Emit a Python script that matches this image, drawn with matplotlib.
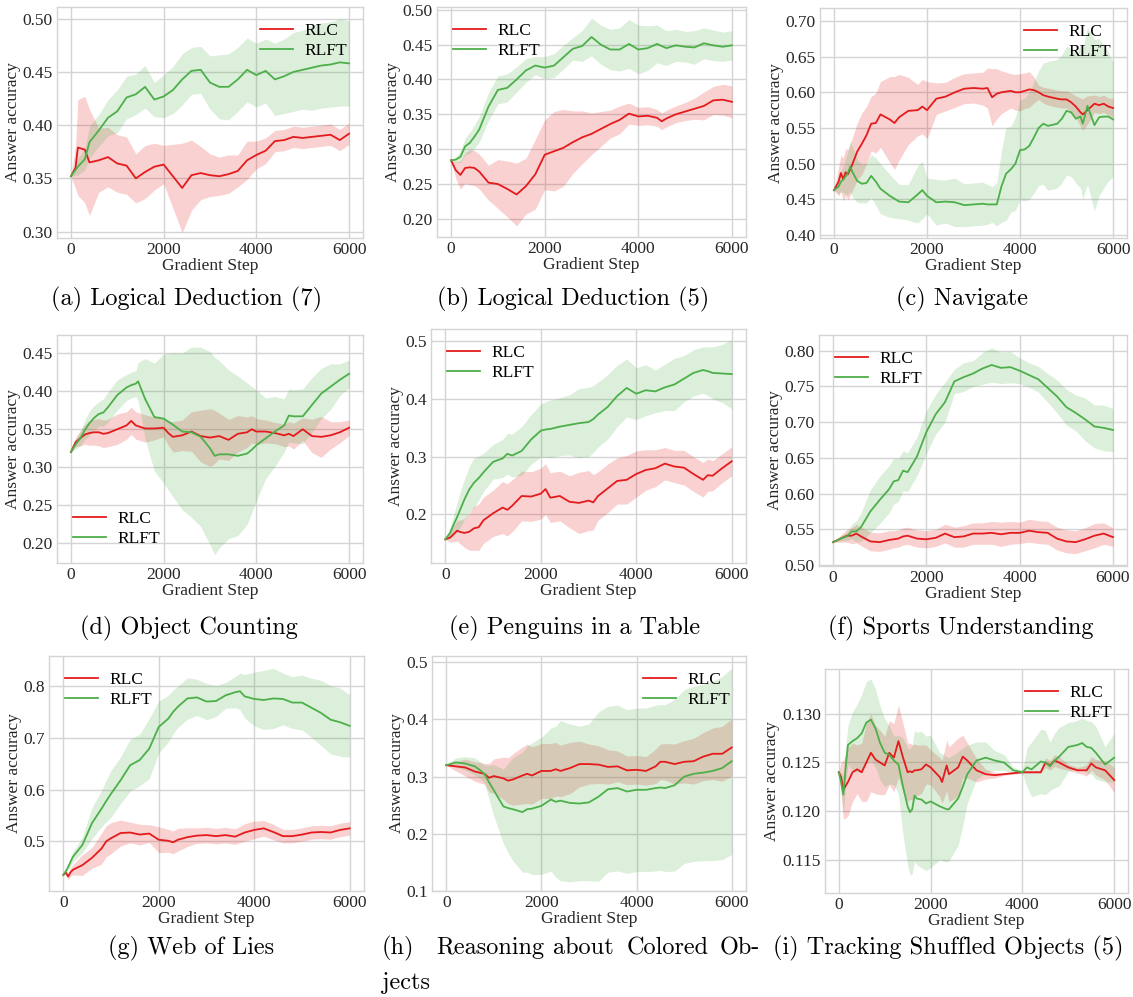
import matplotlib
matplotlib.use("Agg")
import matplotlib.pyplot as plt
import numpy as np

RED = "#e41a1c"
GREEN = "#4daf4a"

# ---- (a) Logical Deduction (7)
a_x = [0, 100, 150, 300, 400, 600, 800, 1000, 1200, 1400, 1600, 1800, 2000, 2200, 2400, 2600, 2800,
       3000, 3200, 3400, 3600, 3800, 4000, 4200, 4400, 4600, 4800, 5000, 5200, 5400, 5600, 5800, 6000]
a_rlc = [0.352, 0.360, 0.379, 0.377, 0.365, 0.367, 0.370, 0.364, 0.362, 0.350, 0.356, 0.361, 0.363, 0.352,
         0.341, 0.353, 0.355, 0.353, 0.352, 0.354, 0.357, 0.367, 0.372, 0.376, 0.385, 0.386, 0.389, 0.388,
         0.389, 0.390, 0.391, 0.386, 0.392]
a_rlc_sd = [0, 0.02, 0.045, 0.05, 0.05, 0.03, 0.028, 0.027, 0.027, 0.023, 0.025, 0.022, 0.018, 0.03, 0.042,
            0.033, 0.025, 0.02, 0.018, 0.018, 0.015, 0.018, 0.013, 0.012, 0.01, 0.01, 0.01, 0.01, 0.01, 0.01,
            0.01, 0.01, 0.01]
a_rlft = [0.352, 0.358, 0.361, 0.368, 0.384, 0.395, 0.407, 0.413, 0.426, 0.429, 0.436, 0.424, 0.427, 0.433,
          0.443, 0.451, 0.452, 0.440, 0.436, 0.436, 0.443, 0.452, 0.447, 0.451, 0.443, 0.446, 0.450, 0.452,
          0.454, 0.456, 0.457, 0.459, 0.458]
a_rlft_sd = [0, 0.005, 0.008, 0.01, 0.015, 0.015, 0.017, 0.02, 0.02, 0.019, 0.02, 0.016, 0.02, 0.022, 0.024,
             0.022, 0.022, 0.025, 0.03, 0.031, 0.03, 0.03, 0.03, 0.03, 0.034, 0.035, 0.037, 0.037, 0.04, 0.04,
             0.04, 0.041, 0.04]

# ---- (b) Logical Deduction (5)
b_x = [0, 100, 200, 300, 400, 500, 600, 800, 1000, 1200, 1400, 1600, 1800, 2000, 2200, 2400, 2600, 2800,
       3000, 3200, 3400, 3600, 3800, 4000, 4200, 4400, 4500, 4600, 4800, 5000, 5200, 5400, 5600, 5800, 6000]
b_rlc = [0.284, 0.270, 0.263, 0.273, 0.274, 0.273, 0.268, 0.252, 0.250, 0.243, 0.235, 0.247, 0.264, 0.292,
         0.297, 0.302, 0.310, 0.317, 0.322, 0.329, 0.336, 0.342, 0.351, 0.347, 0.348, 0.345, 0.340, 0.344,
         0.350, 0.354, 0.358, 0.362, 0.370, 0.371, 0.368]
b_rlc_sd = [0, 0.012, 0.02, 0.022, 0.025, 0.025, 0.025, 0.025, 0.035, 0.04, 0.045, 0.04, 0.05, 0.05, 0.057,
            0.055, 0.045, 0.038, 0.03, 0.025, 0.02, 0.02, 0.015, 0.013, 0.013, 0.012, 0.012, 0.012, 0.012,
            0.013, 0.015, 0.02, 0.02, 0.022, 0.023]
b_rlft = [0.284, 0.285, 0.289, 0.304, 0.309, 0.318, 0.328, 0.361, 0.385, 0.388, 0.400, 0.413, 0.420, 0.417,
          0.420, 0.432, 0.444, 0.448, 0.461, 0.450, 0.443, 0.443, 0.451, 0.443, 0.445, 0.451, 0.448, 0.445,
          0.449, 0.447, 0.446, 0.452, 0.449, 0.447, 0.449]
b_rlft_sd = [0, 0.004, 0.008, 0.012, 0.015, 0.017, 0.018, 0.02, 0.02, 0.02, 0.018, 0.017, 0.013, 0.016,
             0.017, 0.017, 0.016, 0.022, 0.027, 0.028, 0.029, 0.031, 0.035, 0.035, 0.032, 0.027, 0.026, 0.025,
             0.023, 0.022, 0.024, 0.022, 0.022, 0.021, 0.021]

# ---- (c) Navigate
c_x = [0, 100, 150, 200, 250, 300, 350, 400, 500, 600, 700, 800, 900, 1000, 1200, 1300, 1400, 1600, 1800,
       1900, 2000, 2200, 2400, 2600, 2800, 3000, 3200, 3300, 3400, 3500, 3600, 3700, 3800, 3900, 4000, 4100,
       4200, 4300, 4400, 4500, 4600, 4800, 4900, 5000, 5100, 5200, 5300, 5350, 5450, 5600, 5700, 5800, 5900,
       6000]
c_rlc = [0.463, 0.475, 0.487, 0.478, 0.488, 0.485, 0.492, 0.500, 0.517, 0.528, 0.540, 0.556, 0.557, 0.569,
         0.562, 0.557, 0.565, 0.574, 0.575, 0.580, 0.575, 0.591, 0.594, 0.600, 0.605, 0.606, 0.605, 0.606,
         0.593, 0.598, 0.600, 0.601, 0.602, 0.600, 0.600, 0.602, 0.604, 0.603, 0.600, 0.596, 0.594, 0.591,
         0.590, 0.590, 0.586, 0.580, 0.572, 0.569, 0.575, 0.584, 0.582, 0.584, 0.580, 0.578]
c_rlc_sd = [0, 0.02, 0.025, 0.03, 0.033, 0.035, 0.036, 0.037, 0.04, 0.043, 0.04, 0.038, 0.042, 0.046, 0.06,
            0.065, 0.06, 0.047, 0.036, 0.038, 0.04, 0.022, 0.02, 0.021, 0.021, 0.021, 0.023, 0.028, 0.04,
            0.035, 0.03, 0.027, 0.024, 0.025, 0.026, 0.025, 0.025, 0.018, 0.01, 0.011, 0.012, 0.012, 0.012,
            0.012, 0.013, 0.015, 0.02, 0.022, 0.02, 0.012, 0.012, 0.012, 0.012, 0.013]
c_rlft = [0.463, 0.468, 0.475, 0.478, 0.482, 0.487, 0.496, 0.488, 0.476, 0.472, 0.473, 0.483, 0.475, 0.465,
          0.455, 0.451, 0.447, 0.446, 0.457, 0.463, 0.455, 0.446, 0.447, 0.446, 0.442, 0.443, 0.444, 0.443,
          0.443, 0.443, 0.468, 0.486, 0.492, 0.500, 0.519, 0.520, 0.525, 0.537, 0.550, 0.556, 0.553, 0.556,
          0.563, 0.574, 0.572, 0.563, 0.566, 0.556, 0.581, 0.554, 0.565, 0.566, 0.566, 0.562]
c_rlft_sd = [0, 0.01, 0.015, 0.018, 0.025, 0.03, 0.035, 0.035, 0.03, 0.027, 0.028, 0.03, 0.033, 0.035, 0.03,
             0.027, 0.024, 0.025, 0.04, 0.04, 0.025, 0.032, 0.03, 0.034, 0.03, 0.03, 0.03, 0.028, 0.025, 0.03,
             0.05, 0.065, 0.06, 0.065, 0.07, 0.072, 0.075, 0.078, 0.08, 0.085, 0.09, 0.09, 0.09, 0.09, 0.09,
             0.09, 0.1, 0.105, 0.11, 0.12, 0.11, 0.1, 0.09, 0.08]

# ---- (d) Object Counting
d_x = [0, 100, 200, 300, 400, 500, 600, 700, 800, 1000, 1200, 1300, 1400, 1450, 1600, 1800, 2000, 2100,
       2200, 2400, 2600, 2800, 3000, 3100, 3200, 3400, 3600, 3800, 3900, 4000, 4200, 4400, 4600, 4700, 4800,
       5000, 5200, 5400, 5600, 5800, 6000]
d_rlc = [0.320, 0.333, 0.338, 0.343, 0.345, 0.346, 0.346, 0.344, 0.345, 0.350, 0.355, 0.361, 0.355, 0.354,
         0.351, 0.351, 0.352, 0.345, 0.340, 0.342, 0.347, 0.341, 0.339, 0.340, 0.341, 0.336, 0.344, 0.346,
         0.350, 0.347, 0.347, 0.345, 0.342, 0.344, 0.341, 0.350, 0.341, 0.340, 0.342, 0.346, 0.352]
d_rlc_sd = [0, 0.006, 0.01, 0.013, 0.016, 0.017, 0.018, 0.018, 0.018, 0.02, 0.018, 0.018, 0.018, 0.018,
            0.018, 0.015, 0.012, 0.016, 0.02, 0.02, 0.026, 0.034, 0.038, 0.035, 0.03, 0.027, 0.024, 0.02,
            0.018, 0.017, 0.015, 0.014, 0.015, 0.016, 0.017, 0.015, 0.022, 0.027, 0.018, 0.014, 0.01]
d_rlft = [0.320, 0.330, 0.338, 0.349, 0.358, 0.365, 0.370, 0.372, 0.379, 0.395, 0.405, 0.408, 0.410, 0.413,
          0.390, 0.366, 0.364, 0.360, 0.356, 0.347, 0.346, 0.340, 0.325, 0.315, 0.317, 0.317, 0.315, 0.318,
          0.323, 0.329, 0.338, 0.347, 0.355, 0.368, 0.367, 0.367, 0.382, 0.397, 0.406, 0.415, 0.423]
d_rlft_sd = [0, 0.006, 0.01, 0.013, 0.016, 0.016, 0.016, 0.018, 0.02, 0.02, 0.017, 0.017, 0.017, 0.025,
             0.053, 0.071, 0.085, 0.09, 0.095, 0.103, 0.112, 0.118, 0.127, 0.13, 0.123, 0.111, 0.105, 0.093,
             0.083, 0.073, 0.053, 0.046, 0.035, 0.035, 0.035, 0.036, 0.036, 0.033, 0.03, 0.021, 0.018]

# ---- (e) Penguins in a Table
e_x = [0, 100, 200, 250, 300, 400, 500, 600, 700, 800, 1000, 1200, 1300, 1400, 1600, 1800, 2000, 2100,
       2200, 2400, 2600, 2800, 3000, 3100, 3200, 3400, 3600, 3800, 4000, 4200, 4400, 4600, 4800, 5000, 5200,
       5400, 5500, 5600, 5800, 6000]
e_rlc = [0.157, 0.160, 0.168, 0.172, 0.170, 0.168, 0.170, 0.176, 0.178, 0.190, 0.202, 0.212, 0.208, 0.215,
         0.232, 0.231, 0.236, 0.244, 0.229, 0.232, 0.222, 0.220, 0.224, 0.221, 0.232, 0.245, 0.258, 0.260,
         0.270, 0.277, 0.280, 0.288, 0.283, 0.281, 0.270, 0.260, 0.268, 0.267, 0.280, 0.292]
e_rlc_sd = [0, 0.008, 0.015, 0.018, 0.02, 0.025, 0.032, 0.038, 0.04, 0.04, 0.04, 0.045, 0.045, 0.045, 0.043,
            0.043, 0.044, 0.044, 0.043, 0.043, 0.045, 0.053, 0.052, 0.048, 0.042, 0.042, 0.04, 0.042, 0.04,
            0.035, 0.032, 0.028, 0.028, 0.03, 0.03, 0.03, 0.028, 0.026, 0.025, 0.025]
e_rlft = [0.157, 0.168, 0.187, 0.196, 0.206, 0.226, 0.243, 0.255, 0.263, 0.273, 0.291, 0.297, 0.305, 0.302,
          0.310, 0.330, 0.345, 0.347, 0.348, 0.352, 0.355, 0.358, 0.360, 0.365, 0.373, 0.386, 0.405, 0.419,
          0.409, 0.415, 0.413, 0.420, 0.425, 0.435, 0.445, 0.450, 0.448, 0.445, 0.444, 0.443]
e_rlft_sd = [0, 0.01, 0.02, 0.025, 0.03, 0.035, 0.04, 0.043, 0.038, 0.033, 0.03, 0.033, 0.035, 0.037, 0.042,
             0.043, 0.046, 0.048, 0.05, 0.05, 0.052, 0.06, 0.06, 0.058, 0.056, 0.056, 0.053, 0.05, 0.045,
             0.044, 0.037, 0.04, 0.045, 0.04, 0.04, 0.04, 0.042, 0.045, 0.05, 0.06]

# ---- (f) Sports Understanding
f_x = [0, 200, 300, 400, 500, 600, 800, 1000, 1200, 1300, 1400, 1500, 1600, 1800, 2000, 2200, 2400, 2600,
       2800, 3000, 3200, 3400, 3600, 3800, 4000, 4200, 4400, 4600, 4800, 5000, 5200, 5400, 5600, 5800, 6000]
f_rlc = [0.532, 0.538, 0.541, 0.541, 0.544, 0.540, 0.533, 0.532, 0.535, 0.536, 0.537, 0.540, 0.541, 0.537,
         0.536, 0.538, 0.544, 0.539, 0.540, 0.544, 0.544, 0.545, 0.543, 0.545, 0.545, 0.548, 0.546, 0.545,
         0.537, 0.533, 0.532, 0.536, 0.541, 0.544, 0.539]
f_rlc_sd = [0, 0.006, 0.009, 0.011, 0.013, 0.013, 0.013, 0.013, 0.013, 0.012, 0.012, 0.012, 0.012, 0.012,
            0.012, 0.012, 0.013, 0.014, 0.015, 0.015, 0.015, 0.016, 0.017, 0.016, 0.015, 0.016, 0.016, 0.016,
            0.016, 0.016, 0.016, 0.016, 0.017, 0.015, 0.013]
f_rlft = [0.532, 0.538, 0.540, 0.547, 0.547, 0.553, 0.575, 0.591, 0.606, 0.617, 0.619, 0.632, 0.630, 0.652,
          0.686, 0.711, 0.728, 0.757, 0.763, 0.768, 0.775, 0.780, 0.776, 0.777, 0.772, 0.766, 0.760, 0.748,
          0.736, 0.721, 0.713, 0.704, 0.694, 0.692, 0.689]
f_rlft_sd = [0, 0.004, 0.006, 0.01, 0.015, 0.02, 0.03, 0.033, 0.033, 0.032, 0.03, 0.028, 0.027, 0.027, 0.03,
             0.028, 0.028, 0.017, 0.02, 0.018, 0.022, 0.024, 0.022, 0.022, 0.018, 0.017, 0.018, 0.02, 0.023,
             0.025, 0.025, 0.03, 0.03, 0.032, 0.03]

# ---- (g) Web of Lies
g_x = [0, 50, 100, 150, 200, 400, 600, 800, 900, 1000, 1200, 1400, 1600, 1800, 2000, 2200, 2300, 2400, 2600,
       2800, 3000, 3200, 3400, 3600, 3700, 3800, 4000, 4200, 4400, 4600, 4800, 5000, 5200, 5400, 5600, 5800,
       6000]
g_rlc = [0.435, 0.440, 0.432, 0.440, 0.445, 0.454, 0.468, 0.486, 0.500, 0.506, 0.516, 0.517, 0.513, 0.515,
         0.503, 0.501, 0.498, 0.503, 0.508, 0.511, 0.512, 0.510, 0.512, 0.509, 0.513, 0.517, 0.522, 0.525,
         0.518, 0.510, 0.510, 0.513, 0.517, 0.518, 0.517, 0.522, 0.525]
g_rlc_sd = [0, 0.003, 0.006, 0.008, 0.01, 0.02, 0.02, 0.03, 0.03, 0.03, 0.025, 0.02, 0.02, 0.017, 0.025,
            0.022, 0.022, 0.022, 0.018, 0.015, 0.015, 0.015, 0.015, 0.015, 0.016, 0.017, 0.017, 0.015, 0.015,
            0.013, 0.013, 0.013, 0.013, 0.013, 0.013, 0.013, 0.013]
g_rlft = [0.435, 0.442, 0.450, 0.460, 0.470, 0.493, 0.535, 0.563, 0.578, 0.592, 0.618, 0.647, 0.657, 0.679,
          0.721, 0.737, 0.750, 0.760, 0.776, 0.778, 0.770, 0.771, 0.782, 0.788, 0.790, 0.780, 0.775, 0.773,
          0.776, 0.775, 0.768, 0.768, 0.758, 0.748, 0.735, 0.730, 0.723]
g_rlft_sd = [0, 0.003, 0.005, 0.008, 0.01, 0.015, 0.03, 0.035, 0.04, 0.045, 0.045, 0.05, 0.05, 0.058, 0.05,
             0.045, 0.042, 0.04, 0.04, 0.035, 0.035, 0.03, 0.025, 0.03, 0.035, 0.042, 0.052, 0.057, 0.058,
             0.05, 0.05, 0.053, 0.057, 0.063, 0.066, 0.066, 0.06]

# ---- (h) Reasoning about Colored Objects
h_x = [0, 200, 400, 600, 700, 800, 900, 1000, 1200, 1300, 1400, 1600, 1700, 1800, 2000, 2200, 2300, 2400,
       2600, 2800, 3000, 3200, 3400, 3600, 3800, 4000, 4200, 4400, 4500, 4600, 4800, 5000, 5200, 5400, 5600,
       5800, 6000]
h_rlc = [0.320, 0.318, 0.316, 0.309, 0.307, 0.305, 0.298, 0.301, 0.297, 0.293, 0.295, 0.302, 0.305, 0.302,
         0.310, 0.310, 0.313, 0.310, 0.315, 0.322, 0.322, 0.321, 0.317, 0.318, 0.311, 0.312, 0.310, 0.318,
         0.326, 0.326, 0.322, 0.326, 0.327, 0.335, 0.340, 0.340, 0.351]
h_rlc_sd = [0, 0.008, 0.015, 0.017, 0.018, 0.018, 0.025, 0.03, 0.037, 0.04, 0.045, 0.05, 0.052, 0.05, 0.048,
            0.048, 0.047, 0.045, 0.045, 0.04, 0.035, 0.033, 0.03, 0.027, 0.025, 0.025, 0.025, 0.03, 0.031,
            0.032, 0.035, 0.037, 0.04, 0.042, 0.045, 0.048, 0.05]
h_rlft = [0.320, 0.325, 0.323, 0.318, 0.312, 0.305, 0.290, 0.276, 0.248, 0.245, 0.243, 0.238, 0.243, 0.244,
          0.249, 0.260, 0.256, 0.258, 0.254, 0.253, 0.255, 0.265, 0.278, 0.280, 0.274, 0.277, 0.277, 0.280,
          0.281, 0.280, 0.285, 0.300, 0.305, 0.307, 0.310, 0.315, 0.327]
h_rlft_sd = [0, 0.008, 0.012, 0.015, 0.015, 0.015, 0.03, 0.045, 0.065, 0.078, 0.09, 0.105, 0.11, 0.115, 0.12,
             0.125, 0.132, 0.14, 0.138, 0.135, 0.137, 0.148, 0.145, 0.145, 0.143, 0.143, 0.143, 0.145, 0.145,
             0.146, 0.15, 0.152, 0.153, 0.154, 0.157, 0.16, 0.163]

# ---- (i) Tracking Shuffled Objects (5)
i_x = [0, 50, 100, 150, 200, 300, 400, 500, 600, 700, 800, 900, 1000, 1100, 1200, 1300, 1400, 1500, 1550,
       1600, 1650, 1700, 1800, 1900, 2000, 2200, 2250, 2350, 2400, 2600, 2700, 2800, 3000, 3200, 3400, 3600,
       3800, 4000, 4100, 4200, 4400, 4500, 4600, 4700, 4800, 5000, 5200, 5300, 5400, 5500, 5600, 5800, 6000]
i_rlc = [0.1240, 0.1235, 0.1222, 0.1226, 0.1230, 0.1240, 0.1243, 0.1240, 0.1250, 0.1260, 0.1253, 0.1250,
         0.1247, 0.1260, 0.1255, 0.1272, 0.1255, 0.1240, 0.1241, 0.1240, 0.1242, 0.1242, 0.1243, 0.1248,
         0.1245, 0.1235, 0.1230, 0.1247, 0.1238, 0.1245, 0.1256, 0.1252, 0.1242, 0.1238, 0.1237, 0.1238,
         0.1239, 0.1240, 0.1240, 0.1240, 0.1240, 0.1250, 0.1247, 0.1252, 0.1250, 0.1245, 0.1242, 0.1242,
         0.1242, 0.1249, 0.1245, 0.1242, 0.1232]
i_rlc_sd = [0, 0.0015, 0.003, 0.0033, 0.0035, 0.003, 0.0025, 0.003, 0.004, 0.004, 0.0035, 0.0033, 0.003,
            0.0033, 0.0035, 0.0037, 0.0035, 0.003, 0.0029, 0.0028, 0.0027, 0.0026, 0.0025, 0.002, 0.0018,
            0.002, 0.0022, 0.0026, 0.0028, 0.003, 0.0022, 0.0018, 0.0012, 0.0005, 0.0003, 0.0001, 0.0001,
            0.0001, 0.0001, 0.0001, 0.0001, 0.0005, 0.0005, 0.0006, 0.0006, 0.0003, 0.0003, 0.0004, 0.0006,
            0.0007, 0.0008, 0.001, 0.0013]
i_rlft = [0.1240, 0.1230, 0.1217, 0.1245, 0.1268, 0.1272, 0.1275, 0.1280, 0.1291, 0.1294, 0.1285, 0.1270,
          0.1260, 0.1258, 0.1252, 0.1248, 0.1225, 0.1205, 0.1199, 0.1202, 0.1216, 0.1213, 0.1212, 0.1208,
          0.1210, 0.1205, 0.1204, 0.1202, 0.1202, 0.1213, 0.1225, 0.1238, 0.1252, 0.1255, 0.1252, 0.1250,
          0.1242, 0.1240, 0.1245, 0.1243, 0.1251, 0.1250, 0.1246, 0.1252, 0.1256, 0.1266, 0.1268, 0.1270,
          0.1266, 0.1265, 0.1260, 0.1248, 0.1255]
i_rlft_sd = [0, 0.001, 0.002, 0.002, 0.002, 0.003, 0.0035, 0.004, 0.0042, 0.0042, 0.004, 0.0038, 0.0035,
             0.003, 0.0025, 0.003, 0.005, 0.006, 0.0065, 0.0066, 0.0067, 0.0068, 0.007, 0.0069, 0.0068, 0.0055,
             0.0055, 0.0054, 0.0053, 0.0048, 0.004, 0.003, 0.0019, 0.0016, 0.001, 0.0008, 0.0003, 0.0002,
             0.002, 0.0028, 0.0033, 0.0033, 0.0025, 0.0028, 0.003, 0.0025, 0.0025, 0.0026, 0.0027, 0.0027,
             0.0027, 0.0018, 0.0025]

captions = ["(a) Logical Deduction (7)", "(b) Logical Deduction (5)", "(c) Navigate",
            "(d) Object Counting", "(e) Penguins in a Table", "(f) Sports Understanding",
            "(g) Web of Lies", None, "(i) Tracking Shuffled Objects (5)"]
# caption (h) is justified over two lines in the paper
h_words = ["(h)", "Reasoning", "about", "Colored", "Ob-"]
h_word_x = [382, 436, 553, 627, 720]

W, H = 1133, 997
# axes boxes in pixels: left, top, right, bottom
boxes = [(57, 7, 363, 238), (437, 7, 746, 237), (820, 8, 1127, 238),
         (57, 335, 363, 563), (431, 329, 746, 563), (819, 335, 1127, 566),
         (49, 656, 364, 891), (432, 656, 746, 891), (825, 669, 1128, 893)]
ylims = [(0.294, 0.511), (0.174, 0.504), (0.396, 0.718),
         (0.174, 0.474), (0.116, 0.521), (0.4986, 0.822),
         (0.404, 0.858), (0.1, 0.511), (0.1116, 0.1346)]
yticks = [np.arange(0.30, 0.501, 0.05), np.arange(0.20, 0.501, 0.05), np.arange(0.40, 0.701, 0.05),
          np.arange(0.20, 0.451, 0.05), np.arange(0.2, 0.51, 0.1), np.arange(0.50, 0.801, 0.05),
          np.arange(0.5, 0.81, 0.1), np.arange(0.1, 0.51, 0.1), np.arange(0.115, 0.1301, 0.005)]
yfmt = ["%.2f", "%.2f", "%.2f", "%.2f", "%.1f", "%.2f", "%.1f", "%.1f", "%.3f"]
legend_loc = ["upper right", "upper left", "upper right", "lower left", "upper left",
              "upper left", "upper left", "upper right", "upper right"]
# caption anchors (x center px, y center px)
cap_pos = [(187, 299), (573, 299), (962, 299), (189, 628), (575, 628), (961, 628),
           (191, 948), (382, 948), (948, 948)]
CAP_SIZE = 17.5

panels = [(a_x, a_rlc, a_rlc_sd, a_rlft, a_rlft_sd), (b_x, b_rlc, b_rlc_sd, b_rlft, b_rlft_sd),
          (c_x, c_rlc, c_rlc_sd, c_rlft, c_rlft_sd), (d_x, d_rlc, d_rlc_sd, d_rlft, d_rlft_sd),
          (e_x, e_rlc, e_rlc_sd, e_rlft, e_rlft_sd), (f_x, f_rlc, f_rlc_sd, f_rlft, f_rlft_sd),
          (g_x, g_rlc, g_rlc_sd, g_rlft, g_rlft_sd), (h_x, h_rlc, h_rlc_sd, h_rlft, h_rlft_sd),
          (i_x, i_rlc, i_rlc_sd, i_rlft, i_rlft_sd)]

plt.rcParams['font.family'] = ['Liberation Serif', 'DejaVu Serif']
plt.rcParams['font.size'] = 12

fig = plt.figure(figsize=(W / 100, H / 100), dpi=100)

for k, (x, m1, s1, m2, s2) in enumerate(panels):
    l, t, r, b = boxes[k]
    ax = fig.add_axes([l / W, 1 - b / H, (r - l) / W, (b - t) / H])
    x = np.array(x)
    for m, s, col, lab in [(m1, s1, RED, "RLC"), (m2, s2, GREEN, "RLFT")]:
        m = np.array(m)
        s = np.array(s)
        ax.fill_between(x, m - s, m + s, color=col, alpha=0.2, lw=0)
        ax.plot(x, m, color=col, lw=1.3, label=lab)
    ax.set_xlim(-300, 6300)
    ax.set_ylim(*ylims[k])
    ax.set_xticks([0, 2000, 4000, 6000])
    ax.set_yticks(yticks[k])
    ax.yaxis.set_major_formatter(matplotlib.ticker.FormatStrFormatter(yfmt[k]))
    ax.grid(True, color="#d4d4d4", lw=1.0)
    ax.set_axisbelow(True)
    for sp in ax.spines.values():
        sp.set_color("#d4d4d4")
        sp.set_linewidth(1.0)
    ax.tick_params(length=0, pad=3, labelsize=12.5, colors="#262626")
    ax.set_xlabel("Gradient Step", fontsize=12.5, labelpad=0, color="#262626")
    ax.set_ylabel("Answer accuracy", fontsize=12.5, labelpad=1, color="#262626")
    ax.legend(loc=legend_loc[k], frameon=False, fontsize=12.5, handlelength=1.9, handletextpad=0.7,
              labelspacing=0.25)

    cx, cy = cap_pos[k]
    if k == 7:
        for wd, wx in zip(h_words, h_word_x):
            fig.text(wx / W, 1 - cy / H, wd, family="cmr10", fontsize=CAP_SIZE, ha="left", va="center")
        fig.text(cx / W, 1 - 983 / H, "jects", family="cmr10", fontsize=CAP_SIZE, ha="left", va="center")
    else:
        fig.text(cx / W, 1 - cy / H, captions[k], family="cmr10", fontsize=CAP_SIZE, ha="center",
                 va="center")

fig.savefig("out.png", dpi=100)
